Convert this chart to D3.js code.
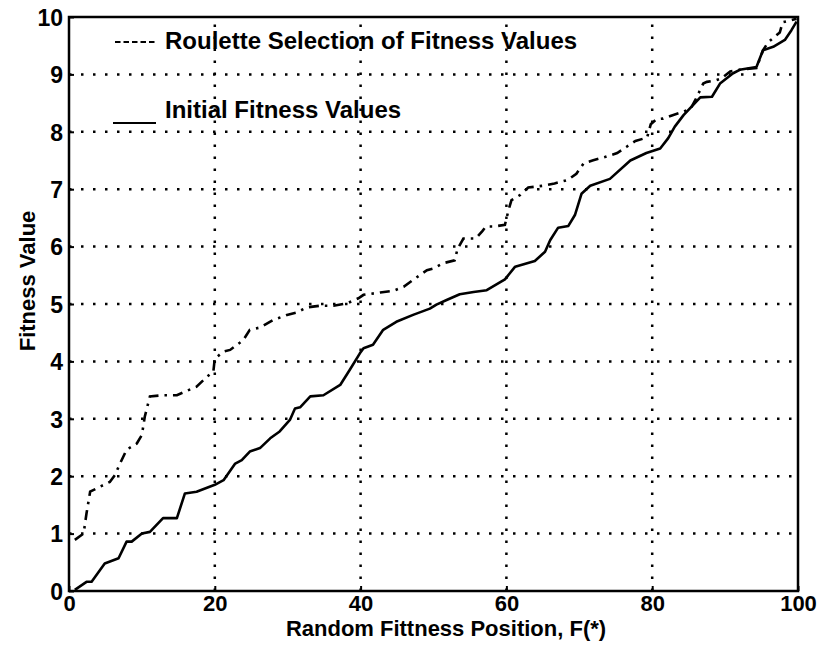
<!DOCTYPE html>
<html>
<head>
<meta charset="utf-8">
<script src="https://cdn.jsdelivr.net/npm/d3@7"></script>
<style>
  body { margin: 0; background: #fff; }
  text { font-family: "Liberation Sans", Arial, Helvetica, sans-serif; font-weight: bold; fill: #000; }
</style>
</head>
<body>
<div id="chart"></div>
<script>
// Chart size and plot box
const width = 822;
const height = 648;
const margin = {left: 69, right: 24, top: 17, bottom: 57};

// Tick labels
const xTicks = [0, 20, 40, 60, 80, 100];
const yTicks = [0, 1, 2, 3, 4, 5, 6, 7, 8, 9, 10];

// Initial fitness values (solid line)
const initialX = [0.8, 2.4, 3.1, 4.9, 6.8, 7.9, 8.6, 10.0, 11.1, 12.9, 14.8, 15.9, 17.5, 20.0, 21.2,
  22.8, 23.7, 24.8, 26.2, 27.6, 28.9, 30.3, 31.0, 31.7, 33.1, 34.9, 37.2, 38.5, 39.9, 40.4,
  41.7, 43.1, 44.9, 47.2, 49.5, 50.4, 51.8, 53.6, 55.5, 57.3, 59.8, 61.2, 63.9, 65.3, 66.0,
  67.1, 68.5, 69.4, 70.3, 71.5, 74.2, 77.0, 79.2, 81.1, 82.2, 83.1, 84.3, 85.4, 86.6, 88.2,
  89.3, 91.1, 92.0, 94.3, 95.2, 96.6, 98.2, 99.1, 99.8];
const initialY = [0.02, 0.16, 0.16, 0.48, 0.57, 0.86, 0.86, 1.0, 1.03, 1.27, 1.27, 1.70, 1.73, 1.85, 1.93,
  2.22, 2.28, 2.43, 2.49, 2.66, 2.78, 2.98, 3.18, 3.2, 3.39, 3.41, 3.59, 3.85, 4.14, 4.23,
  4.29, 4.55, 4.69, 4.81, 4.92, 4.99, 5.07, 5.17, 5.21, 5.24, 5.43, 5.65, 5.75, 5.91, 6.11,
  6.33, 6.36, 6.55, 6.92, 7.06, 7.18, 7.5, 7.63, 7.71, 7.89, 8.09, 8.29, 8.44, 8.6, 8.61,
  8.84, 9.02, 9.08, 9.13, 9.42, 9.48, 9.6, 9.77, 9.92];

// Roulette selection of fitness values (dash-dot line)
const rouletteX = [0.8, 2.0, 2.4, 2.9, 4.3, 5.6, 6.3, 7.0, 7.9, 9.3, 10.0, 10.4, 11.1, 12.9, 14.8,
  16.4, 17.5, 18.9, 19.8, 20.0, 21.2, 22.1, 23.9, 24.8, 26.2, 28.0, 29.9, 31.2, 32.6, 34.4,
  36.3, 38.1, 39.7, 40.4, 42.7, 44.5, 45.9, 47.2, 49.1, 50.0, 51.3, 52.9, 53.3, 54.1, 55.8,
  56.7, 57.2, 58.3, 59.8, 60.3, 60.7, 61.9, 63.0, 65.0, 66.6, 68.4, 69.6, 70.6, 71.8, 73.5,
  75.2, 76.5, 77.7, 79.3, 79.8, 80.6, 81.5, 82.8, 84.3, 85.3, 85.9, 87.0, 87.5, 88.8, 89.5,
  90.7, 92.0, 94.3, 95.2, 95.9, 97.5, 97.9, 98.9, 99.8];
const rouletteY = [0.89, 1.0, 1.35, 1.73, 1.82, 1.9, 2.02, 2.22, 2.46, 2.57, 2.72, 3.04, 3.39, 3.41, 3.41,
  3.5, 3.56, 3.73, 3.82, 4.05, 4.17, 4.2, 4.37, 4.55, 4.59, 4.72, 4.81, 4.85, 4.94, 4.97,
  4.97, 5.01, 5.1, 5.16, 5.2, 5.23, 5.3, 5.42, 5.59, 5.62, 5.71, 5.76, 5.96, 6.14, 6.14,
  6.27, 6.35, 6.35, 6.38, 6.64, 6.81, 6.9, 7.03, 7.06, 7.1, 7.16, 7.27, 7.45, 7.5, 7.56,
  7.63, 7.74, 7.84, 7.9, 8.13, 8.22, 8.23, 8.29, 8.35, 8.41, 8.55, 8.84, 8.87, 8.9, 8.93,
  9.05, 9.08, 9.11, 9.42, 9.56, 9.73, 9.91, 9.94, 9.97];

// Legend entries and axis titles
const legendLabels = ["Roulette Selection of Fitness Values", "Initial Fitness Values"];
const xTitle = "Random Fittness Position, F(*)";
const yTitle = "Fitness Value";

const svg = d3.select("#chart")
  .append("svg")
  .attr("width", width)
  .attr("height", height);

// Scales
const xScale = d3.scaleLinear()
  .domain([0, 100])
  .range([margin.left, width - margin.right]);

const yScale = d3.scaleLinear()
  .domain([0, 10])
  .range([height - margin.bottom, margin.top]);

// Dotted grid
svg.append("g")
  .selectAll("line")
  .data(yTicks.slice(1, -1))
  .join("line")
  .attr("x1", xScale(0))
  .attr("x2", xScale(100))
  .attr("y1", d => yScale(d))
  .attr("y2", d => yScale(d))
  .attr("stroke", "#000")
  .attr("stroke-width", 2.5)
  .attr("stroke-dasharray", "2.5,9.5");

svg.append("g")
  .selectAll("line")
  .data(xTicks.slice(1, -1))
  .join("line")
  .attr("x1", d => xScale(d))
  .attr("x2", d => xScale(d))
  .attr("y1", yScale(0))
  .attr("y2", yScale(10))
  .attr("stroke", "#000")
  .attr("stroke-width", 2.5)
  .attr("stroke-dasharray", "2.5,9.5");

// Axes with inward ticks
svg.append("g")
  .attr("transform", `translate(${margin.left},0)`)
  .call(d3.axisLeft(yScale).tickValues(yTicks).tickSizeInner(-5).tickSizeOuter(0).tickPadding(6))
  .call(g => g.select(".domain").remove())
  .call(g => g.selectAll(".tick line").attr("stroke-width", 2))
  .call(g => g.selectAll("text").attr("font-size", "23px").attr("dy", "0.36em"));

svg.append("g")
  .attr("transform", `translate(0,${height - margin.bottom})`)
  .call(d3.axisBottom(xScale).tickValues(xTicks).tickSizeInner(-5).tickSizeOuter(0).tickPadding(4))
  .call(g => g.select(".domain").remove())
  .call(g => g.selectAll(".tick line").attr("stroke-width", 2))
  .call(g => g.selectAll("text").attr("font-size", "22px"));

// Plot box
svg.append("rect")
  .attr("x", xScale(0))
  .attr("y", yScale(10))
  .attr("width", xScale(100) - xScale(0))
  .attr("height", yScale(0) - yScale(10))
  .attr("fill", "none")
  .attr("stroke", "#000")
  .attr("stroke-width", 2.5);

// Lines
const line = d3.line()
  .x(d => xScale(d[0]))
  .y(d => yScale(d[1]));

svg.append("path")
  .datum(d3.zip(initialX, initialY))
  .attr("d", line)
  .attr("fill", "none")
  .attr("stroke", "#000")
  .attr("stroke-width", 2.6)
  .attr("stroke-linejoin", "round");

svg.append("path")
  .datum(d3.zip(rouletteX, rouletteY))
  .attr("d", line)
  .attr("fill", "none")
  .attr("stroke", "#000")
  .attr("stroke-width", 2.6)
  .attr("stroke-dasharray", "10,6,2.5,6");

// Legend
svg.append("line")
  .attr("x1", 115).attr("x2", 155)
  .attr("y1", 42).attr("y2", 42)
  .attr("stroke", "#000")
  .attr("stroke-width", 2)
  .attr("stroke-dasharray", "5.5,3");

svg.append("text")
  .attr("x", 165)
  .attr("y", 49)
  .attr("font-size", "24px")
  .text(legendLabels[0]);

svg.append("line")
  .attr("x1", 113).attr("x2", 156)
  .attr("y1", 123).attr("y2", 123)
  .attr("stroke", "#000")
  .attr("stroke-width", 2);

svg.append("text")
  .attr("x", 165)
  .attr("y", 118)
  .attr("font-size", "24px")
  .text(legendLabels[1]);

// Axis titles
svg.append("text")
  .attr("x", 446)
  .attr("y", 636)
  .attr("text-anchor", "middle")
  .attr("font-size", "22px")
  .text(xTitle);

svg.append("text")
  .attr("transform", "translate(35,281) rotate(-90)")
  .attr("text-anchor", "middle")
  .attr("font-size", "22px")
  .text(yTitle);
</script>
</body>
</html>
